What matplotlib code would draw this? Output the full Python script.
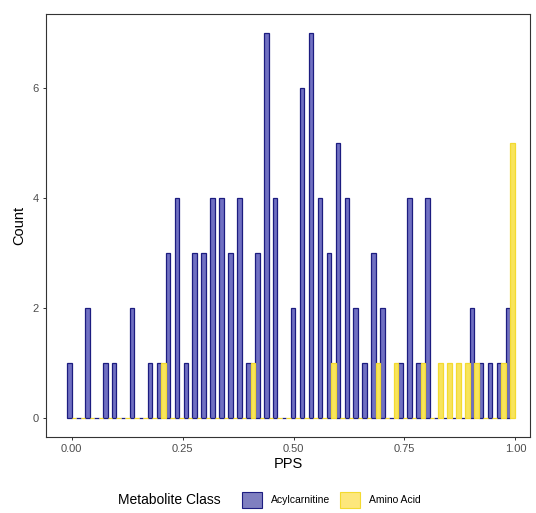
import numpy as np
import matplotlib.pyplot as plt
from matplotlib.patches import Patch

plt.rcParams['font.family'] = ['Liberation Sans', 'DejaVu Sans']

# histogram of PPS by metabolite class, 50 bins between 0 and ~0.988
bin_first = 0.0
bin_last = 0.988
n_bins = 50

acyl_counts = [1, 0, 2, 0, 1, 1, 0, 2, 0, 1,
               1, 3, 4, 1, 3, 3, 4, 4, 3, 4,
               1, 3, 7, 4, 0, 2, 6, 7, 4, 3,
               5, 4, 2, 1, 3, 2, 0, 1, 4, 1,
               4, 0, 0, 0, 0, 2, 1, 1, 1, 2]
amino_counts = [0, 0, 0, 0, 0, 0, 0, 0, 0, 0,
                1, 0, 0, 0, 0, 0, 0, 0, 0, 0,
                1, 0, 0, 0, 0, 0, 0, 0, 0, 1,
                0, 0, 0, 0, 1, 0, 1, 0, 0, 1,
                0, 1, 1, 1, 1, 1, 0, 0, 1, 5]
classes = ['Acylcarnitine', 'Amino Acid']

centers = np.linspace(bin_first, bin_last, n_bins)
bw = (bin_last - bin_first) / (n_bins - 1)

blue_fill = '#7070c2'
blue_edge = '#1c1c80'
yel_fill = '#f8e45c'
yel_edge = '#f3da30'

fig = plt.figure(figsize=(5.36, 5.13), dpi=100)
ax = fig.add_axes([46/536, 1-437/513, 484/536, 423/513])

ax.bar(centers - bw/4, acyl_counts, width=bw/2, color=blue_fill,
       edgecolor=blue_edge, linewidth=0.9)
ax.bar(centers + bw/4, amino_counts, width=bw/2, color=yel_fill,
       edgecolor=yel_edge, linewidth=0.9)

ax.set_xlim(-0.058, 1.033)
ax.set_ylim(-0.355, 7.35)
ax.set_xticks([0, 0.25, 0.5, 0.75, 1.0])
ax.set_xticklabels(['0.00', '0.25', '0.50', '0.75', '1.00'])
ax.set_yticks([0, 2, 4, 6])
ax.tick_params(length=2.5, width=0.7, color='#333333', labelcolor='#4d4d4d',
               labelsize=8, pad=2.5)
for s in ax.spines.values():
    s.set_color('#333333')
    s.set_linewidth(0.8)

ax.set_xlabel('PPS', fontsize=10.5, labelpad=2)
ax.set_ylabel('Count', fontsize=10.5, labelpad=5)

fig.text(118/536, 1-500/513, 'Metabolite Class', fontsize=10,
         ha='left', va='center')
handles = [Patch(facecolor='#7f7fc0', edgecolor='#1e1e82', linewidth=0.8),
           Patch(facecolor='#fde77c', edgecolor='#f3da30', linewidth=0.8)]
fig.legend(handles, classes, loc='center left', bbox_to_anchor=(242/536, 1-500/513),
           ncol=2, frameon=False, fontsize=7.5, handlelength=1.9,
           handleheight=1.9, handletextpad=0.9, columnspacing=0.9,
           borderpad=0, borderaxespad=0)

fig.savefig('out.png', dpi=100)
